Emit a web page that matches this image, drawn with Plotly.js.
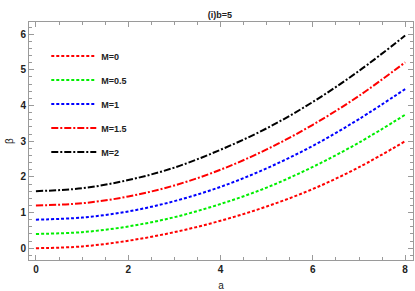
<!DOCTYPE html>
<html><head><meta charset="utf-8">
<script src="https://cdn.plot.ly/plotly-3.0.1.min.js"></script>
<style>body{margin:0;background:#fff}#c{width:415px;height:291px}</style>
</head><body><div id="c"></div>
<script>
const aVals = [0,1,2,3,4,5,6,7,8];
const betaM0   = [0.00,0.05,0.21,0.45,0.77,1.17,1.66,2.27,3.00];
const betaM05  = [0.40,0.45,0.61,0.87,1.24,1.70,2.28,2.96,3.74];
const betaM1   = [0.80,0.86,1.03,1.32,1.72,2.24,2.87,3.62,4.46];
const betaM15  = [1.20,1.26,1.45,1.76,2.20,2.77,3.46,4.27,5.21];
const betaM2   = [1.60,1.68,1.91,2.26,2.76,3.36,4.10,4.97,5.96];
const names = ['M=0','M=0.5','M=1','M=1.5','M=2'];
const series = [betaM0,betaM05,betaM1,betaM15,betaM2];
const colors = ['#ff0000','#00ee00','#0000ff','#ff0000','#000000'];
const dashes = ['3px,2px','3px,2px','3px,2px','7px,2px,2px,2px','7px,2px,2px,2px'];
const traces = series.map((s,i)=>({x:aVals,y:s,name:names[i],mode:'lines',legendgroup:'g'+i,
  line:{color:colors[i],width:2,dash:dashes[i],shape:'spline'}}));
const axCommon = {showgrid:false,zeroline:false,showline:true,linecolor:'#9a9a9a',linewidth:1,
  mirror:'ticks',ticks:'inside',ticklen:5,tickcolor:'#9a9a9a',
  tickfont:{size:10,color:'#222',family:'Liberation Sans, Arial, sans-serif',weight:'bold'}};
const layout = {
  width:415,height:291,margin:{l:29,r:2,t:22,b:31},
  paper_bgcolor:'#fff',plot_bgcolor:'#fff',
  title:{text:'(i)b=5',x:0.53,xanchor:'center',y:0.948,yanchor:'middle',
    font:{size:9,color:'#222',family:'Liberation Sans, Arial, sans-serif',weight:'bold'}},
  xaxis:Object.assign({},axCommon,{range:[-0.15,8.17],tickvals:[0,2,4,6,8],
    minor:{dtick:0.5,ticklen:3,tickcolor:'#9a9a9a',ticks:'inside'},
    title:{text:'a',standoff:8,font:{size:10,color:'#222',family:'Liberation Sans, Arial, sans-serif'}}}),
  yaxis:Object.assign({},axCommon,{range:[-0.33,6.34],tickvals:[0,1,2,3,4,5,6],
    minor:{dtick:0.2,ticklen:3,tickcolor:'#9a9a9a',ticks:'inside'},
    title:{text:'β',standoff:4,font:{size:10,color:'#222',family:'Liberation Sans, Arial, sans-serif'}}}),
  showlegend:true,
  legend:{x:0.045,y:0.918,xanchor:'left',yanchor:'top',bgcolor:'rgba(0,0,0,0)',
    tracegroupgap:5,itemwidth:45,
    font:{size:9,color:'#222',family:'Liberation Sans, Arial, sans-serif',weight:'bold'}}
};
Plotly.newPlot('c',traces,layout,{displayModeBar:false,staticPlot:true});
</script></body></html>
